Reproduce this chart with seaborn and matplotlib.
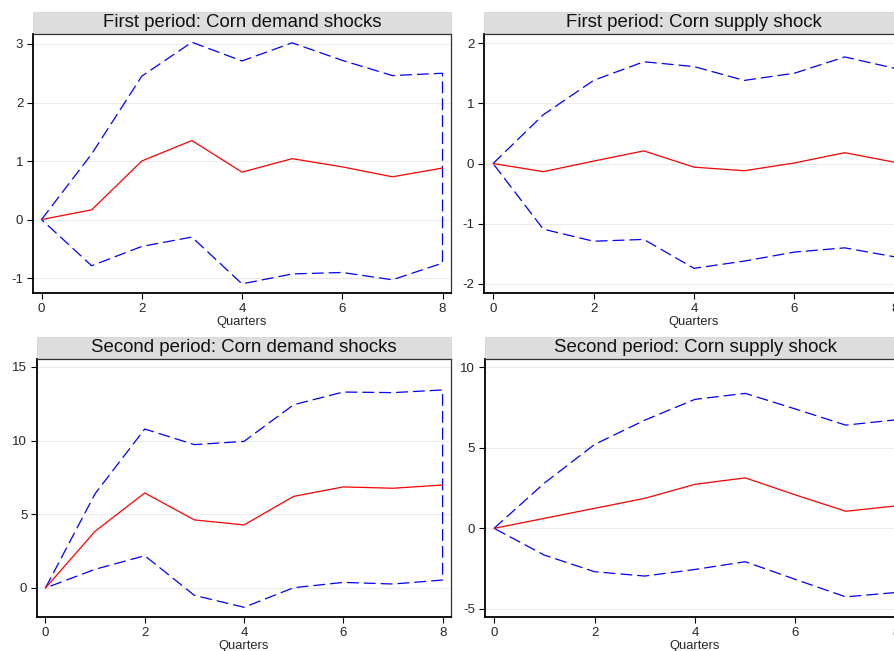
import numpy as np
import pandas as pd
import seaborn as sns
import matplotlib
matplotlib.use("Agg")
import matplotlib.pyplot as plt
from matplotlib.patches import Rectangle

# data (impulse responses with confidence bands)
quarters = [0, 1, 2, 3, 4, 5, 6, 7, 8]

fp_demand_irf = [0, 0.165, 1.00, 1.35, 0.81, 1.04, 0.90, 0.73, 0.88]
fp_demand_hi = [0, 1.12, 2.45, 3.03, 2.71, 3.02, 2.72, 2.46, 2.50]
fp_demand_lo = [0, -0.79, -0.46, -0.30, -1.10, -0.93, -0.905, -1.03, -0.745]

fp_supply_irf = [0, -0.135, 0.04, 0.21, -0.06, -0.12, 0.01, 0.18, 0.02]
fp_supply_hi = [0, 0.81, 1.38, 1.69, 1.61, 1.38, 1.50, 1.77, 1.58]
fp_supply_lo = [0, -1.09, -1.29, -1.26, -1.74, -1.62, -1.47, -1.40, -1.55]

sp_demand_irf = [0, 3.85, 6.45, 4.62, 4.28, 6.22, 6.86, 6.77, 6.99]
sp_demand_hi = [0, 6.40, 10.79, 9.73, 9.95, 12.44, 13.30, 13.26, 13.44]
sp_demand_lo = [0, 1.27, 2.19, -0.50, -1.31, 0.02, 0.38, 0.27, 0.54]

sp_supply_irf = [0, 0.62, 1.24, 1.86, 2.73, 3.13, 2.07, 1.06, 1.39]
sp_supply_hi = [0, 2.80, 5.20, 6.71, 8.00, 8.37, 7.40, 6.40, 6.73]
sp_supply_lo = [0, -1.66, -2.69, -2.96, -2.55, -2.07, -3.17, -4.25, -3.98]

titles = ["First period: Corn demand shocks", "First period: Corn supply shock",
          "Second period: Corn demand shocks", "Second period: Corn supply shock"]

sns.set_style("white")
plt.rcParams['font.family'] = ['Liberation Sans', 'DejaVu Sans']
plt.rcParams['axes.unicode_minus'] = False

fig = plt.figure(figsize=(8.94, 6.51), dpi=100)

# axes boxes in figure fractions (right column runs past the figure edge)
positions = [
    [0.0369, 0.5499, 0.4676, 0.3978],
    [0.5414, 0.5499, 0.4698, 0.3978],
    [0.0414, 0.0522, 0.4631, 0.3963],
    [0.5425, 0.0522, 0.4698, 0.3963],
]
xlims = [(-0.17, 8.17), (-0.18, 8.18), (-0.17, 8.17), (-0.18, 8.18)]
ylims = [(-1.256, 3.17), (-2.15, 2.15), (-1.97, 15.54), (-5.5, 10.5)]
yticks = [[-1, 0, 1, 2, 3], [-2, -1, 0, 1, 2], [0, 5, 10, 15], [-5, 0, 5, 10]]
panels = [
    (fp_demand_irf, fp_demand_lo, fp_demand_hi),
    (fp_supply_irf, fp_supply_lo, fp_supply_hi),
    (sp_demand_irf, sp_demand_lo, sp_demand_hi),
    (sp_supply_irf, sp_supply_lo, sp_supply_hi),
]

for i, (irf, lo, hi) in enumerate(panels):
    ax = fig.add_axes(positions[i])

    # band as one path: upper bound forward, lower bound back
    band = pd.DataFrame({
        "q": quarters + quarters[::-1],
        "v": hi + lo[::-1],
    })
    sns.lineplot(data=band, x="q", y="v", sort=False, estimator=None,
                 color="#0000ff", lw=0.9, ax=ax)
    ax.lines[-1].set_linestyle((0, (9.5, 4)))

    sns.lineplot(x=quarters, y=irf, sort=False, estimator=None,
                 color="#ff0000", lw=0.9, ax=ax)

    ax.set_xlim(*xlims[i])
    ax.set_ylim(*ylims[i])
    ax.set_xticks([0, 2, 4, 6, 8])
    ax.set_yticks(yticks[i])
    ax.yaxis.grid(True, color="#ebebeb", lw=0.8)
    ax.set_axisbelow(True)
    ax.tick_params(axis="both", direction="out", length=4, width=0.8,
                   color="black", labelsize=9.5, pad=3,
                   bottom=True, left=True)
    ax.set_xlabel("Quarters", fontsize=9.3, labelpad=1)
    ax.set_ylabel("")

    for side in ["left", "bottom"]:
        ax.spines[side].set_color("black")
        ax.spines[side].set_linewidth(1.3)
    for side in ["top", "right"]:
        ax.spines[side].set_color("#333333")
        ax.spines[side].set_linewidth(0.9)

    # grey title strip on top of the plot box
    h = 21.0 / (positions[i][3] * 651)
    ax.add_patch(Rectangle((0, 1.004), 1, h, transform=ax.transAxes,
                           facecolor="#dddddd", edgecolor="#d4d4d4",
                           lw=0.6, clip_on=False))
    ax.text(0.5, 1.004 + h / 2, titles[i], transform=ax.transAxes,
            ha="center", va="center", fontsize=13.4, color="#111111")

fig.savefig("out.png", dpi=100)
